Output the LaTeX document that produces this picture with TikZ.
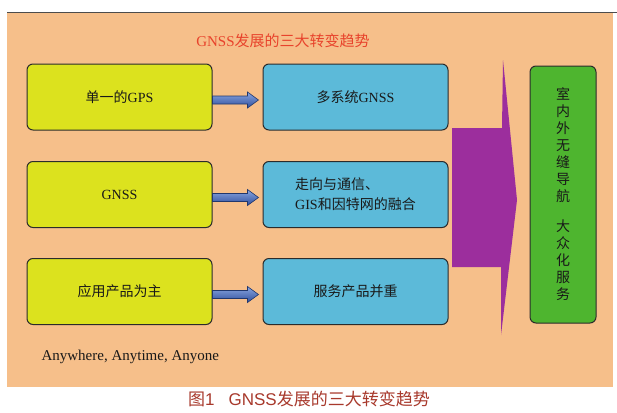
\documentclass[tikz,border=0pt]{standalone}
\usepackage{fontspec}
\setmainfont{Liberation Serif}
\newfontfamily\cjk{Noto Sans CJK SC}
\newfontfamily\capsans{Liberation Sans}
\usetikzlibrary{calc}
\definecolor{bgorange}{HTML}{F6BF8A}
\definecolor{boxyellow}{HTML}{DCE21E}
\definecolor{boxblue}{HTML}{5CBAD9}
\definecolor{boxgreen}{HTML}{4EB52F}
\definecolor{shapepurple}{HTML}{9C2E9D}
\definecolor{titlered}{HTML}{E8432C}
\definecolor{capred}{HTML}{A8392C}
\definecolor{arrowtop}{HTML}{8AA6E0}
\definecolor{arrowbot}{HTML}{2F4E9C}
\definecolor{edgedark}{HTML}{2B2B2B}
\newcommand\cj[1]{{\cjk #1}}
\tikzset{
  basebox/.style={draw=edgedark, line width=1pt, rounded corners=6pt,
    minimum width=185pt, minimum height=66pt, inner sep=0pt,
    font=\fontsize{14}{20}\selectfont, text=black!90},
  ybox/.style={basebox, fill=boxyellow},
  bbox/.style={basebox, fill=boxblue, align=left},
  gbox/.style={draw=edgedark, line width=1pt, rounded corners=6pt, fill=boxgreen,
    minimum width=66pt, minimum height=257pt, inner sep=0pt, align=center,
    font=\cjk\fontsize{14}{17}\selectfont, text=black!90},
  blockarrow/.style={top color=arrowtop, bottom color=arrowbot, draw=arrowbot!70!black, line width=0.6pt}
}
\begin{document}
\begin{tikzpicture}[x=1pt,y=-1pt]
\useasboundingbox (0,0) rectangle (617,412);
\clip (0,0) rectangle (617,412);
\fill[white] (0,0) rectangle (617,412);
\fill[bgorange] (7,13) rectangle (613,387);
\draw[line width=0.8pt, black!70] (7,12.5) -- (617,12.5);

\node[text=titlered, font=\fontsize{15}{15}\selectfont] (title) at (283,41) {GNSS\cj{发展的三大转变趋势}};

\node[ybox] (y1) at (119.5,97) {\cj{单一的}GPS};
\node[ybox] (y2) at (119.5,194.5) {GNSS};
\node[ybox] (y3) at (119.5,291.5) {\cj{应用产品为主}};

\node[bbox] (b1) at (355.5,97) {\cj{多系统}GNSS};
\node[bbox] (b2) at (355.5,194.5) {\cj{走向与通信、}\\GIS\cj{和因特网的融合}};
\node[bbox] (b3) at (355.5,291.5) {\cj{服务产品并重}};

\foreach \a/\b in {y1/b1,y2/b2,y3/b3}{
  \path[blockarrow] ($(\a.east)+(0,-1)$) -- ($(\a.east)+(35,-1)$) -- ($(\a.east)+(35,-5)$)
    -- ($(\b.west)+(-4,3)$) -- ($(\a.east)+(35,11)$) -- ($(\a.east)+(35,7)$)
    -- ($(\a.east)+(0,7)$) -- cycle;
}

\fill[shapepurple] (503,60) -- (517,200) -- (501,335) -- (501,267) -- (452,267)
  -- (452,128) -- (502,128) -- cycle;

\node[gbox] (g) at (563,194.5) {室\\内\\外\\无\\缝\\导\\航\\[13pt]大\\众\\化\\服\\务};

\node[anchor=west, font=\fontsize{15}{15}\selectfont, text=black!90] (any) at (38,357) {Anywhere, Anytime, Anyone};

\node[text=capred, font=\fontsize{17}{17}\selectfont] (cap) at (309,399) {\cj{图}\capsans 1\hspace{14pt}GNSS\cj{发展的三大转变趋势}};
\end{tikzpicture}
\end{document}
